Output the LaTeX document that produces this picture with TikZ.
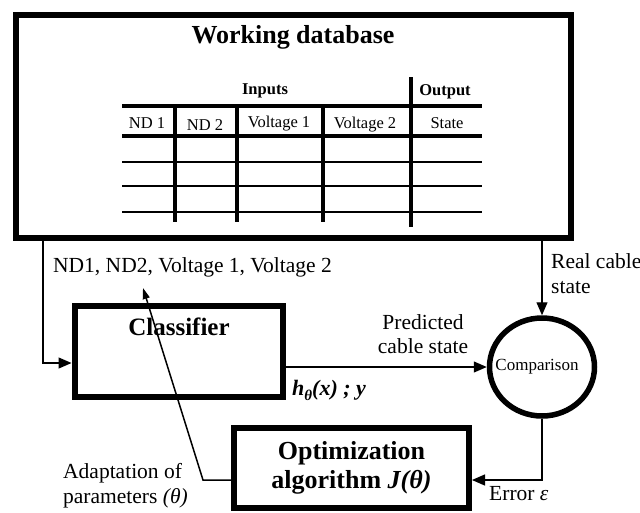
\documentclass[tikz,border=0pt]{standalone}
\usepackage{fontspec}
\setmainfont{Liberation Serif}
\usetikzlibrary{arrows.meta,shapes.geometric,calc}
\newcommand{\myfs}[1]{\fontsize{#1}{#1}\selectfont}
\begin{document}
\begin{tikzpicture}[x=1pt,y=-1pt,
  bigbox/.style={draw, line width=6pt, inner sep=0pt},
  conn/.style={line width=1.3pt},
  arr/.style={conn, -{Triangle[length=13pt,width=11pt]}},
  lbl/.style={inner sep=0pt, font=\myfs{21.5}},
  hdr/.style={inner sep=0pt, anchor=base, font=\bfseries\myfs{16.5}},
  cell/.style={inner sep=0pt, anchor=base, font=\myfs{16.5}},
  tline/.style={line width=4pt},
  rline/.style={line width=2.3pt}
]
\useasboundingbox (0,0) rectangle (640,512);

% working database
\node[bigbox, minimum width=555.5pt, minimum height=223.5pt] (db) at (293.25,126.25) {};
\node[anchor=base, inner sep=0pt, font=\bfseries\myfs{26}] (dbt) at (293,43) {Working database};

% table
\draw[line width=3.5pt] (122,106) -- (482,106);
\draw[tline] (122,136) -- (482,136);
\foreach \yy in {162,186,212} \draw[rline] (122,\yy) -- (482,\yy);
\foreach \xx in {175,237,323} \draw[tline] (\xx,106) -- (\xx,222);
\draw[tline] (411,77) -- (411,227);
\node[hdr] (hin) at (265,94) {Inputs};
\node[hdr] (hout) at (445,95) {Output};
\node[cell] (c1) at (147,128) {ND 1};
\node[cell] (c2) at (205,130) {ND 2};
\node[cell] (c3) at (279,127) {Voltage 1};
\node[cell] (c4) at (365,128) {Voltage 2};
\node[cell] (c5) at (447,128) {State};

% classifier
\node[bigbox, minimum width=208.5pt, minimum height=91pt] (cls) at (178.75,351.5) {};
\node[anchor=base, inner sep=0pt, font=\bfseries\myfs{25}] (clst) at (179,335) {Classifier};

% optimization
\node[bigbox, minimum width=235pt, minimum height=80pt, align=center,
      font=\bfseries\fontsize{26}{29}\selectfont] (opt) at (351.5,468)
      {Optimization\\algorithm \textit{J(θ)}};

% comparison
\node[draw, ellipse, line width=5.5pt, minimum width=105pt, minimum height=98pt, inner sep=0pt] (cmp) at (542,367) {};
\node[anchor=base, inner sep=0pt, font=\myfs{17}] (cmpt) at (537,370) {Comparison};

% connectors
\coordinate (inx) at (43,363);
\draw[arr] (db.south -| inx) |- (cls.west |- inx);
\draw[arr] (cls.east |- cmp.west) -- (cmp.west);
\draw[arr] (db.south -| cmp.north) -- (cmp.north);
\coordinate (ey) at (0,480);
\draw[arr] (cmp.south) |- (opt.east |- ey);
\coordinate (adc) at (203,480);
\coordinate (adtip) at (143,288);
\draw[line width=1.5pt, -{Triangle[length=11pt,width=7pt]}] (opt.west |- adc) -- (adc) -- (adtip);

% labels
\node[lbl, anchor=base west] (l1) at (53,272) {ND1, ND2, Voltage 1, Voltage 2};
\node[lbl, anchor=base west] (l2a) at (551,268) {Real cable};
\node[lbl, anchor=base west] (l2b) at (551,293) {state};
\node[lbl, anchor=base] (l3a) at (423,329) {Predicted};
\node[lbl, anchor=base] (l3b) at (423,353) {cable state};
\node[lbl, anchor=base west, font=\bfseries\itshape\myfs{22}] (l4) at (292,395) {h\raisebox{-0.25em}{\myfs{15}θ}(x) ; y};
\node[lbl, anchor=base west] (l5a) at (63,478) {Adaptation of};
\node[lbl, anchor=base west] (l5b) at (63,503) {parameters \textit{(θ)}};
\node[lbl, anchor=base west] (l6) at (489,500) {Error \textit{ε}};
\end{tikzpicture}
\end{document}
